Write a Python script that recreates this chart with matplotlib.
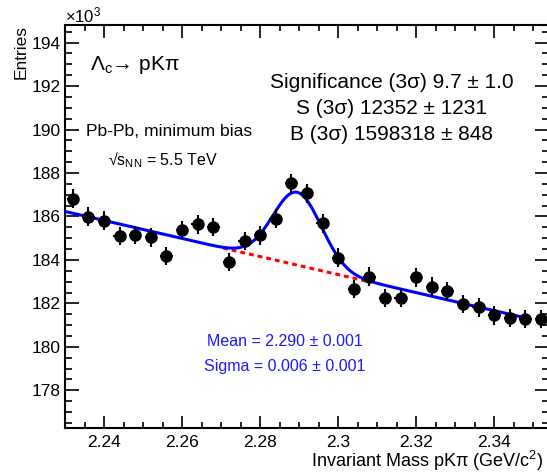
import numpy as np
import matplotlib
matplotlib.use("Agg")
import matplotlib.pyplot as plt
from matplotlib.ticker import MultipleLocator

plt.rcParams['font.family'] = ['Liberation Sans', 'DejaVu Sans']
plt.rcParams['mathtext.fontset'] = 'custom'
plt.rcParams['mathtext.rm'] = 'Liberation Sans'
plt.rcParams['mathtext.it'] = 'Liberation Sans'
plt.rcParams['mathtext.bf'] = 'Liberation Sans:bold'

# invariant mass bin centres (GeV/c^2), bin width 0.004
mass = np.array([2.232, 2.236, 2.240, 2.244, 2.248, 2.252, 2.256, 2.260,
                 2.264, 2.268, 2.272, 2.276, 2.280, 2.284, 2.288, 2.292,
                 2.296, 2.300, 2.304, 2.308, 2.312, 2.316, 2.320, 2.324,
                 2.328, 2.332, 2.336, 2.340, 2.344, 2.348, 2.352])
# entries in units of 10^3
entries = np.array([186.81, 185.99, 185.81, 185.10, 185.15, 185.04, 184.18, 185.38,
                    185.64, 185.52, 183.91, 184.87, 185.14, 185.89, 187.53, 187.07,
                    185.69, 184.11, 182.67, 183.23, 182.24, 182.24, 183.20, 182.77,
                    182.57, 181.97, 181.82, 181.45, 181.32, 181.28, 181.28])
# Poisson errors, in units of 10^3
errors = np.sqrt(entries * 1e3) / 1e3

# fit result: linear background + gaussian
bkg_at_mean = 183.74
bkg_slope = -41.5
gaus_amp = 3.35
gaus_mean = 2.2895
gaus_sigma = 0.0062
fit_lo, fit_hi = 2.2305, 2.349
sig_lo, sig_hi = 2.2705, 2.3085


def background(x):
    return bkg_at_mean + bkg_slope * (x - 2.29)


def total(x):
    return background(x) + gaus_amp * np.exp(-0.5 * ((x - gaus_mean) / gaus_sigma) ** 2)


W, H = 547, 476
fig = plt.figure(figsize=(W / 100, H / 100), dpi=100)
x0, x1 = 65, 548.9
y0, y1 = 427.7, 25
ax = fig.add_axes([x0 / W, 1 - y0 / H, (x1 - x0) / W, (y0 - y1) / H])

ax.set_xlim(2.23, 2.354)
ax.set_ylim(176.28, 194.81)

# fit curves
xf = np.linspace(fit_lo, fit_hi, 400)
ax.plot(xf, total(xf), color='#0000ff', lw=2.2, zorder=3)
xb = np.linspace(sig_lo, sig_hi, 100)
ax.plot(xb, background(xb), color='#ff0000', lw=2.2, ls=(0, (1.6, 1.3)), zorder=2)

# data
ax.errorbar(mass, entries, yerr=errors, xerr=0.0016, fmt='o', color='black',
            ms=8, elinewidth=1.5, capsize=0, zorder=4)

# axes styling (ROOT-like)
for s in ax.spines.values():
    s.set_linewidth(1.5)
ax.xaxis.set_major_locator(MultipleLocator(0.02))
ax.xaxis.set_minor_locator(MultipleLocator(0.005))
ax.yaxis.set_major_locator(MultipleLocator(2))
ax.yaxis.set_minor_locator(MultipleLocator(0.5))
ax.tick_params(which='both', direction='in', top=True, right=True, width=1.2)
ax.tick_params(axis='x', which='major', length=9, pad=5, labelsize=12.5)
ax.tick_params(axis='x', which='minor', length=4.5)
ax.tick_params(axis='y', which='major', length=10, pad=3, labelsize=12.5)
ax.tick_params(axis='y', which='minor', length=5)
ax.set_xticks([2.24, 2.26, 2.28, 2.30, 2.32, 2.34])
ax.set_xticklabels(['2.24', '2.26', '2.28', '2.3', '2.32', '2.34'])


def px(x, y):
    return x / W, 1 - y / H


fig.text(*px(65, 22), '×10$^{3}$', fontsize=12, ha='left', va='baseline')
fig.text(*px(21, 25), 'Entries', fontsize=12.5, rotation=90, ha='center', va='top')
fig.text(*px(543, 467), 'Invariant Mass pKπ (GeV/c$^{2}$)', fontsize=13,
         ha='right', va='baseline')

fig.text(*px(90, 65), r'$\Lambda_{\rm c}$→ pKπ', fontsize=15, ha='left', va='center')
fig.text(*px(86, 131), 'Pb-Pb, minimum bias', fontsize=12.6, ha='left', va='center')
fig.text(*px(108, 160), r'√s$_{\rm NN}$ = 5.5 TeV', fontsize=11.5, ha='left', va='center')

fig.text(*px(392, 83), 'Significance (3σ) 9.7 ± 1.0', fontsize=15, ha='center', va='center')
fig.text(*px(392, 109), 'S (3σ) 12352 ± 1231', fontsize=15, ha='center', va='center')
fig.text(*px(392, 134), 'B (3σ) 1598318 ± 848', fontsize=15, ha='center', va='center')

fig.text(*px(285, 341), 'Mean = 2.290 ± 0.001', fontsize=11.5, color='#1a1aff',
         ha='center', va='center')
fig.text(*px(285, 367), 'Sigma = 0.006 ± 0.001', fontsize=11.5, color='#1a1aff',
         ha='center', va='center')

fig.savefig('out.png', dpi=100)
